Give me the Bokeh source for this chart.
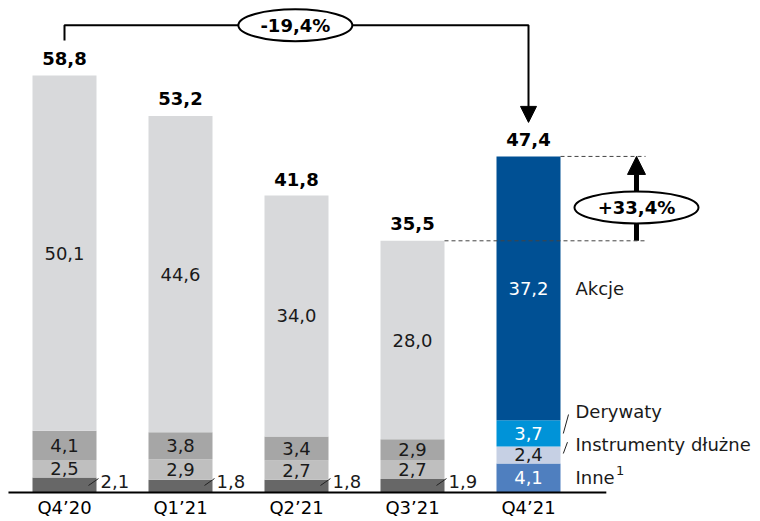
from bokeh.plotting import figure
from bokeh.models import Range1d, ColumnDataSource, Arrow, NormalHead
from bokeh.core.properties import value
from bokeh.embed import file_html
from bokeh.resources import INLINE

quarters = ["Q4’20", "Q1’21", "Q2’21", "Q3’21", "Q4’21"]
inne = [2.1, 1.8, 1.8, 1.9, 4.1]
instrumenty = [2.5, 2.9, 2.7, 2.7, 2.4]
derywaty = [4.1, 3.8, 3.4, 2.9, 3.7]
akcje = [50.1, 44.6, 34.0, 28.0, 37.2]
totals = [58.8, 53.2, 41.8, 35.5, 47.4]
change_yoy = "-19,4%"
change_qoq = "+33,4%"
series_names = ["Akcje", "Derywaty", "Instrumenty dłużne", "Inne"]

gray_cols = {"inne": "#676767", "instr": "#bfbfbf", "der": "#a6a6a6", "akc": "#d8d9db"}
blue_cols = {"inne": "#4f7fbf", "instr": "#c6d0e4", "der": "#0093d8", "akc": "#005094"}

FONT = value("DejaVu Sans")
FS = "18px"
W, H = 760, 521
px_x = 116.0
px_y = 7.09
x0 = -64.0 / px_x
y0 = -29.0 / px_y

p = figure(width=W, height=H, output_backend="svg", toolbar_location=None,
           x_range=Range1d(x0, x0 + W / px_x), y_range=Range1d(y0, y0 + H / px_y),
           min_border=0, outline_line_color=None)
p.axis.visible = False
p.grid.visible = False

fmt = lambda v: f"{v:.1f}".replace(".", ",")
n = len(quarters)
xs = list(range(n))
bw = 64.0 / px_x

layers = [("inne", inne), ("instr", instrumenty), ("der", derywaty), ("akc", akcje)]
bottom = [0.0] * n
for key, vals in layers:
    tops = [b + v for b, v in zip(bottom, vals)]
    cols = [blue_cols[key] if i == n - 1 else gray_cols[key] for i in range(n)]
    src = ColumnDataSource(dict(x=xs, b=bottom, t=tops, c=cols))
    p.vbar(x="x", bottom="b", top="t", width=bw, fill_color="c", line_color=None, source=src)
    mids = [(b + t) / 2 for b, t in zip(bottom, tops)]
    if key == "inne":
        lx = [x + 0.31 for x in xs[:-1]]
        p.text(x=lx, y=[1.55] * (n - 1), text=[fmt(v) for v in vals[:-1]],
               text_font=FONT, text_font_size=FS, text_color="#1a1a1a",
               text_align="left", text_baseline="middle")
        for x in xs[:-1]:
            p.line([x + 0.207, x + 0.293], [0.99, 1.97], line_color="#222222", line_width=1)
        p.text(x=[xs[-1]], y=[mids[-1]], text=[fmt(vals[-1])], text_font=FONT,
               text_font_size=FS, text_color="white", text_align="center", text_baseline="middle")
    else:
        tc = ["white" if (i == n - 1 and key != "instr") else "#1a1a1a" for i in range(n)]
        p.text(x=xs, y=mids, text=[fmt(v) for v in vals], text_font=FONT,
               text_font_size=FS, text_color=tc, text_align="center", text_baseline="middle")
    bottom = tops

# totals
p.text(x=xs, y=[t + 2.4 for t in totals], text=[fmt(t) for t in totals], text_font=FONT,
       text_font_size=FS, text_font_style="bold", text_color="black",
       text_align="center", text_baseline="middle")

# baseline axis
p.line([-0.483, xs[-1] + bw / 2 + 0.395], [0, 0], line_color="black", line_width=2)

# category labels
p.text(x=xs, y=[-2.1] * n, text=quarters, text_font=FONT, text_font_size=FS,
       text_color="black", text_align="center", text_baseline="middle")

# bracket -19,4%
ytop = totals[0] + 7.1
p.line([xs[0], xs[0], xs[-1], xs[-1]], [totals[0] + 4.95, ytop, ytop, totals[-1] + 7.0],
       line_color="black", line_width=2)
p.add_layout(Arrow(end=NormalHead(size=16, fill_color="black", line_color="black"),
                   x_start=xs[-1], y_start=totals[-1] + 7.0, x_end=xs[-1], y_end=totals[-1] + 4.8,
                   line_color="black", line_width=2, level="underlay"))
p.ellipse(x=[1.99], y=[ytop], width=[114], height=[32], width_units="screen", height_units="screen",
          fill_color="white", line_color="black", line_width=2)
p.text(x=[1.99], y=[ytop], text=[change_yoy], text_font=FONT, text_font_size=FS,
       text_font_style="bold", text_align="center", text_baseline="middle")

# dashed reference lines
xr = 4.931
p.line([xs[-1] + bw / 2, xr + 0.078], [totals[-1]] * 2, line_color="#444444", line_dash="4 3", line_width=1)
p.line([xs[-2] + bw / 2, xr + 0.078], [totals[-2]] * 2, line_color="#444444", line_dash="4 3", line_width=1)

# +33,4% arrow
p.add_layout(Arrow(end=NormalHead(size=18, fill_color="black", line_color="black"),
                   x_start=xr, y_start=totals[-2], x_end=xr, y_end=totals[-1],
                   line_color="black", line_width=5, level="underlay"))
ymid = 40.2
p.ellipse(x=[xr], y=[ymid], width=[124], height=[32], width_units="screen", height_units="screen",
          fill_color="white", line_color="black", line_width=2)
p.text(x=[xr], y=[ymid], text=[change_qoq], text_font=FONT, text_font_size=FS,
       text_font_style="bold", text_align="center", text_baseline="middle")

# legend labels on the right
lxl = 4.405
akc_mid = inne[-1] + instrumenty[-1] + derywaty[-1] + akcje[-1] / 2
p.text(x=[lxl, lxl, lxl, lxl], y=[akc_mid, 11.4, 6.77, 2.1], text=series_names,
       text_font=FONT, text_font_size=FS, text_color="#1a1a1a",
       text_align="left", text_baseline="middle")
p.text(x=[4.755], y=[3.15], text=["1"], text_font=FONT, text_font_size="13px",
       text_color="#1a1a1a", text_align="left", text_baseline="middle")
p.line([4.30, 4.345], [8.32, 11.0], line_color="#222222", line_width=1)
p.line([4.30, 4.336], [5.5, 7.1], line_color="#222222", line_width=1)

open("out.html", "w").write(file_html(p, INLINE))
